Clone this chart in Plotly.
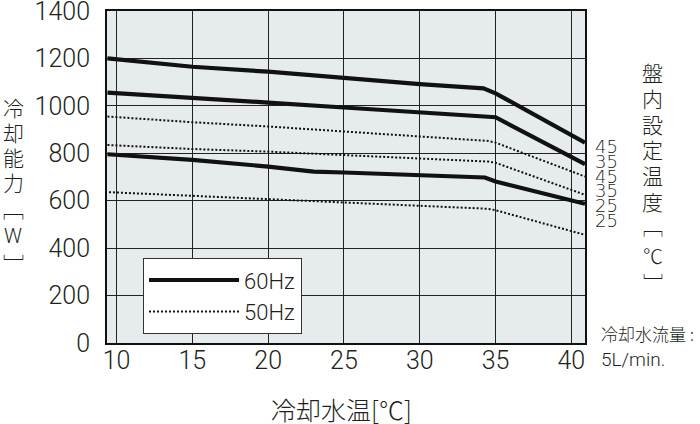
import plotly.graph_objects as go

# ---- data ----
x_60_45 = [9.4, 15, 20, 25, 30, 34.2, 35, 40.9]
y_60_45 = [1200, 1165, 1144, 1116, 1092, 1074, 1053, 845]
x_60_35 = [9.4, 15, 20, 25, 30, 34.3, 35, 40.9]
y_60_35 = [1056, 1035, 1014, 993, 973, 958, 952, 754]
x_60_25 = [9.4, 15, 20, 23, 25, 30, 34.3, 35, 40.9]
y_60_25 = [796, 772, 744, 723, 719, 709, 698, 681, 587]
x_50_45 = [9.4, 15, 20, 25, 30, 34.5, 35, 40.9]
y_50_45 = [955, 931, 913, 892, 873, 852, 845, 702]
x_50_35 = [9.4, 15, 20, 25, 30, 34.5, 35, 40.9]
y_50_35 = [835, 818, 807, 793, 779, 765, 760, 625]
x_50_25 = [9.5, 15, 20, 25, 30, 34.5, 35, 40.9]
y_50_25 = [636, 621, 607, 593, 578, 566, 560, 456]

x_ticks = [10, 15, 20, 25, 30, 35, 40]
y_ticks = [0, 200, 400, 600, 800, 1000, 1200, 1400]
right_labels = ["45", "35", "45", "35", "25", "25"]
right_label_y = [0.593, 0.548, 0.503, 0.458, 0.413, 0.368]

series = [
    (x_60_45, y_60_45, "60Hz", True),
    (x_60_35, y_60_35, "60Hz", False),
    (x_60_25, y_60_25, "60Hz", False),
    (x_50_45, y_50_45, "50Hz", True),
    (x_50_35, y_50_35, "50Hz", False),
    (x_50_25, y_50_25, "50Hz", False),
]

NUM_FONT = "Roboto"
CJK_FONT = "Noto Sans CJK JP"

fig = go.Figure()
for xs, ys, name, show in series:
    if name == "60Hz":
        line = dict(color="#111111", width=4.2)
    else:
        line = dict(color="#111111", width=2, dash="2px,2px")
    fig.add_trace(go.Scatter(x=xs, y=ys, mode="lines", name=name, legendgroup=name,
                             showlegend=show, line=line, hoverinfo="skip"))

fig.update_layout(
    width=700, height=424,
    margin=dict(l=107, r=115, t=11, b=81),
    paper_bgcolor="white",
    plot_bgcolor="#e6ebee",
    font=dict(family=NUM_FONT, color="#231f20", size=25, weight=300),
    legend=dict(
        x=0.075, y=0.256, xanchor="left", yanchor="top",
        bgcolor="white", bordercolor="#333333", borderwidth=1.2,
        font=dict(family=NUM_FONT, size=22, color="#231f20", weight=300),
        itemwidth=90, tracegroupgap=0,
    ),
)
fig.update_xaxes(
    range=[9.37, 40.9], tickvals=x_ticks, ticktext=[str(v) for v in x_ticks],
    showgrid=True, gridcolor="#222222", gridwidth=1,
    showline=True, linecolor="#111111", linewidth=2, mirror=True,
    zeroline=False, ticks="", ticklabelstandoff=-6, automargin=False,
    tickfont=dict(size=25),
)
fig.update_yaxes(
    range=[0, 1400], tickvals=y_ticks, ticktext=[str(v) for v in y_ticks],
    showgrid=True, gridcolor="#222222", gridwidth=1,
    showline=True, linecolor="#111111", linewidth=2, mirror=True,
    zeroline=False, ticks="", ticklabelstandoff=10, automargin=False,
    ticklabeloverflow="allow",
    tickfont=dict(size=25),
)

ann = []
def txt(text, x, y, size, family=CJK_FONT, xanchor="center"):
    ann.append(dict(text=text, xref="paper", yref="paper", x=x, y=y,
                    showarrow=False, xanchor=xanchor, yanchor="middle",
                    font=dict(family=family, size=size, weight=300)))

# left vertical title
left_chars = ["冷", "却", "能", "力"]
for i, ch in enumerate(left_chars):
    txt(ch, -0.196, 0.711 - i * 0.0753, 21)
txt("﹇", -0.196, 0.408, 21)
txt("W", -0.196, 0.322, 20, family=NUM_FONT)
txt("﹈", -0.196, 0.241, 21)

# right vertical title
right_chars = ["盤", "内", "設", "定", "温", "度"]
for i, ch in enumerate(right_chars):
    txt(ch, 1.142, 0.816 - i * 0.0777, 21)
txt("﹇", 1.142, 0.351, 20)
txt("℃", 1.142, 0.265, 20)
txt("﹈", 1.142, 0.178, 20)

# right curve labels
for lab, yy in zip(right_labels, right_label_y):
    txt(lab, 1.017, yy, 18, family="DejaVu Sans", xanchor="left")

# x title
txt("冷却水温[℃]", 0.49, -0.199, 25)
# flow note
txt("冷却水流量 :", 1.03, 0.03, 17, xanchor="left")
txt("5L/min.", 1.03, -0.05, 19, family=NUM_FONT, xanchor="left")
fig.update_layout(annotations=ann)

fig.write_html("out.html")
